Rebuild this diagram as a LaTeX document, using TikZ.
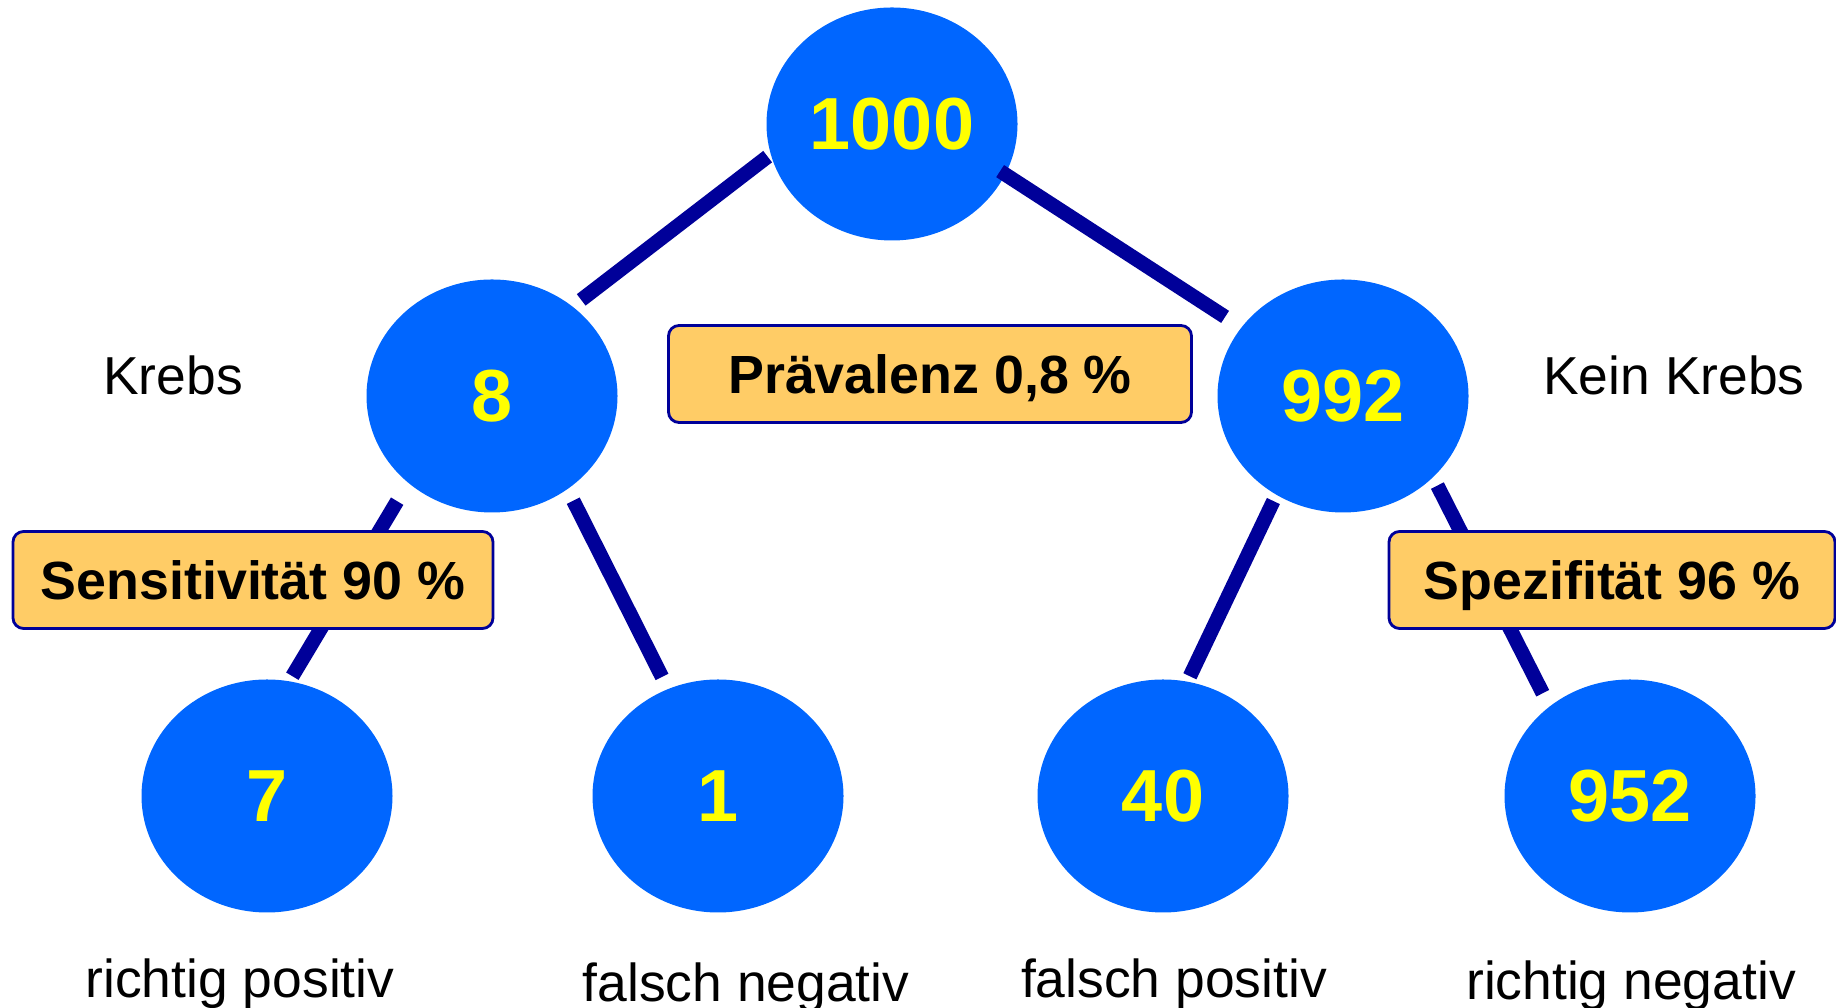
\documentclass[tikz,border=0pt]{standalone}
\usepackage{fontspec}
\setmainfont{Liberation Sans}
\usepackage{tikz}
\usetikzlibrary{positioning,shapes.geometric}
\definecolor{knotc}{HTML}{0066FF}
\definecolor{zahlc}{HTML}{FFFF00}
\definecolor{astc}{HTML}{000099}
\definecolor{boxc}{HTML}{FFCC66}
\tikzset{
  num/.style={ellipse,fill=knotc,minimum width=25.1mm,minimum height=23.3mm,inner sep=0pt,outer sep=0pt,font=\fontsize{21}{24}\selectfont\bfseries,text=zahlc},
  branch/.style={draw=astc,line width=4.1pt},
  rate/.style={draw=astc,line width=0.8pt,fill=boxc,rounded corners=3pt,minimum height=9.7mm,inner sep=0pt,text height=11pt,text depth=0pt,font=\fontsize{15.3}{18}\selectfont\bfseries},
  lab/.style={anchor=base,inner sep=0pt,font=\fontsize{15.2}{18}\selectfont},
}
\begin{document}
\begin{tikzpicture}
  \useasboundingbox (0,0) rectangle (18.36,10.08);
  % Baum
  \node[num] (root) at (8.92,8.84) {1000};
  \node[num] (n8) at (4.92,6.12) {8};
  \node[num] (n992) at (13.43,6.12) {992};
  \foreach \n/\x/\v in {n7/2.67/7,n1/7.18/1,n40/11.63/40,n952/16.30/952} {
    \node[num] (\n) at (\x,2.12) {\v};
  }
  % Aeste
  \draw[branch,shorten <=0.04cm,shorten >=0.11cm] (root.194) -- (n8.48);
  \draw[branch,shorten <=-0.06cm,shorten >=0.195cm] (root.336) -- (n992.146);
  \draw[branch,shorten <=0.215cm,shorten >=0.06cm] (n8.226) -- (n7.79);
  \draw[branch,shorten <=0.13cm,shorten >=0.136cm] (n8.309) -- (n1.115);
  \draw[branch,shorten <=0.07cm,shorten >=0.06cm] (n992.236) -- (n40.78.5);
  \draw[branch,shorten <=0.095cm,shorten >=0.15cm] (n992.318) -- (n952.132);
  % Raten
  \node[rate,minimum width=52.3mm] (prev) at (9.30,6.34) {Prävalenz 0,8 \%};
  \node[rate,minimum width=48.0mm] (sens) at (2.53,4.28) {Sensitivität 90 \%};
  \node[rate,minimum width=44.6mm] (spez) at (16.12,4.28) {Spezifität 96 \%};
  % Beschriftung
  \node[lab] (krebs) at (1.73,6.13) {Krebs};
  \node[lab] (kein) at (16.74,6.13) {Kein Krebs};
  \node[lab] (rp) at (2.40,0.10) {richtig positiv};
  \node[lab] (fn) at (7.46,0.06) {falsch negativ};
  \node[lab] (fp) at (11.74,0.10) {falsch positiv};
  \node[lab] (rn) at (16.31,0.08) {richtig negativ};
\end{tikzpicture}
\end{document}
